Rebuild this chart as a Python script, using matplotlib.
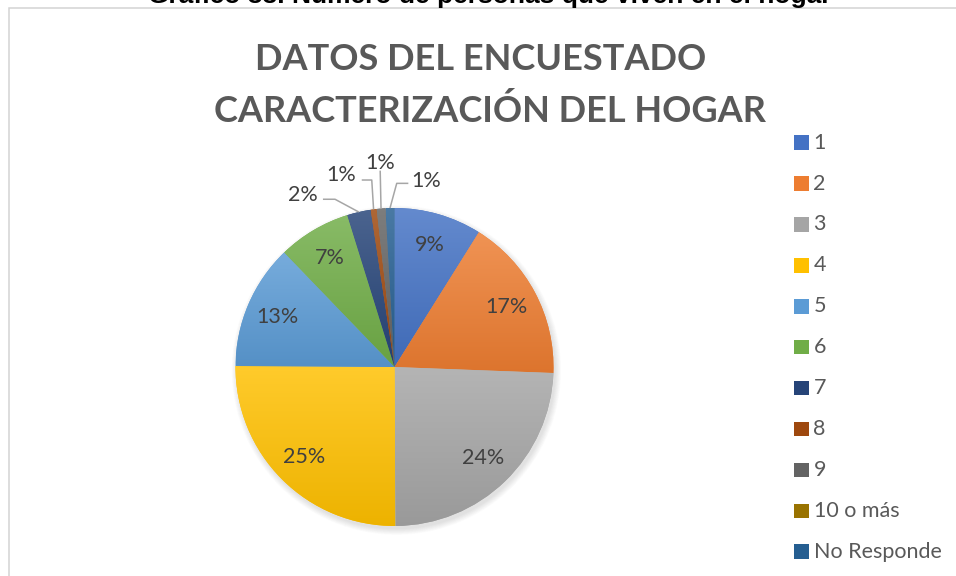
import numpy as np
import matplotlib
matplotlib.use("Agg")
import matplotlib.pyplot as plt
from matplotlib.colors import to_rgb
from matplotlib.patches import Rectangle, Circle

# ---- data -------------------------------------------------------------
categories = ["1", "2", "3", "4", "5", "6", "7", "8", "9", "10 o más", "No Responde"]
shares = [8.9, 16.7, 24.3, 25.2, 12.7, 7.4, 2.4, 0.6, 0.9, 0.0, 0.9]
colors = ["#4472C4", "#ED7D31", "#A5A5A5", "#FFC000", "#5B9BD5", "#70AD47",
          "#264478", "#9E480E", "#636363", "#997300", "#255E91"]
title_lines = ["DATOS DEL ENCUESTADO", "CARACTERIZACIÓN DEL HOGAR"]
caption = "Gráfico 33. Número de personas que viven en el hogar"

# ---- figure -----------------------------------------------------------
W, H, DPI = 956, 576, 100
FONT = "Lato"
fig = plt.figure(figsize=(W / DPI, H / DPI), dpi=DPI)
fig.patch.set_facecolor("white")


def fx(px):
    return px / W


def fy(py):
    return 1 - py / H


# document caption above the chart box (runs off the top edge)
fig.text(fx(490), fy(3.5), caption, ha="center", va="baseline",
         fontsize=19, fontweight="bold", family="Liberation Sans", color="black")

# chart frame
fig.patches.append(Rectangle((fx(8.5), -0.1), 1.2, fy(7.5) + 0.1,
                             transform=fig.transFigure, fill=False,
                             edgecolor="#D3D3D3", linewidth=1.1))

# chart title
fig.text(fx(481), fy(59.5), title_lines[0], ha="center", va="center",
         fontsize=26, fontweight="bold", family=FONT, color="#595959")
fig.text(fx(490), fy(110.5), title_lines[1], ha="center", va="center",
         fontsize=26, fontweight="bold", family=FONT, color="#595959")

# ---- pie --------------------------------------------------------------
cx, cy, R = 394.5, 367.0, 159.0
half = 200.0
L = half / R
ax = fig.add_axes([fx(cx - half), (H - cy - half) / H, 2 * half / W, 2 * half / H])

# soft drop shadow
for i in range(10):
    ax.add_patch(Circle((0.012, -0.02), 1.0 + 0.004 * i, facecolor="black",
                        edgecolor="none", alpha=0.012, zorder=0))

wedges, _ = ax.pie(shares, colors=colors, startangle=90, counterclock=False,
                   radius=1.0, wedgeprops=dict(linewidth=0, zorder=1))

# vertical light-to-dark gradient in each slice
t = np.linspace(0, 1, 256)[:, None]
for w, c in zip(wedges, colors):
    if abs(w.theta2 - w.theta1) < 1e-9:
        continue
    base = np.array(to_rgb(c))
    top = base + (1 - base) * 0.17
    bot = base * 0.93
    img = (top[None, :] * (1 - t) + bot[None, :] * t)[:, None, :]
    bb = w.get_path().get_extents()
    im = ax.imshow(img, extent=(bb.x0, bb.x1, bb.y0, bb.y1), origin="upper",
                   aspect="auto", interpolation="bilinear", zorder=2)
    im.set_clip_path(w)


def pct(v):
    return f"{int(np.floor(v + 0.5))}%"


def mid_angle(w):
    return np.deg2rad((w.theta1 + w.theta2) / 2)


LABEL_SIZE = 15.5

# labels inside the larger slices
for i in range(6):
    a = mid_angle(wedges[i])
    ax.text(0.8 * np.cos(a), 0.8 * np.sin(a), pct(shares[i]), ha="center",
            va="center", fontsize=LABEL_SIZE, family=FONT, color="#404040", zorder=5)

# labels outside the thin slices, with leader lines
outside = {
    6: ((-0.579, 1.082), [(-0.450, 1.055), (-0.374, 1.055)]),
    7: ((-0.336, 1.208), [(-0.206, 1.176), (-0.143, 1.176)]),
    8: ((-0.091, 1.285), [(-0.090, 1.235)]),
    10: ((0.198, 1.172), [(0.087, 1.155), (0.014, 1.155)]),
}
for i, (tpos, elbow) in outside.items():
    a = mid_angle(wedges[i])
    edge = (np.cos(a), np.sin(a))
    pts = np.array(elbow + [edge])
    ax.plot(pts[:, 0], pts[:, 1], color="#A6A6A6", linewidth=1.1, zorder=4,
            solid_capstyle="butt")
    ax.text(tpos[0], tpos[1], pct(shares[i]), ha="center", va="center",
            fontsize=LABEL_SIZE, family=FONT, color="#404040", zorder=5)

ax.set_xlim(-L, L)
ax.set_ylim(-L, L)
ax.set_aspect("equal")
ax.axis("off")

# ---- legend -----------------------------------------------------------
leg_x, leg_y0, leg_dy, box = 794.0, 142.7, 40.9, 14.5
for k, (name, c) in enumerate(zip(categories, colors)):
    yc = leg_y0 + k * leg_dy
    fig.patches.append(Rectangle((fx(leg_x), fy(yc + box / 2)), box / W, box / H,
                                 transform=fig.transFigure, facecolor=c,
                                 edgecolor="none"))
    fig.text(fx(leg_x + box + 5), fy(yc), name, ha="left", va="center",
             fontsize=LABEL_SIZE, family=FONT, color="#595959")

fig.savefig("out.png", dpi=DPI)
